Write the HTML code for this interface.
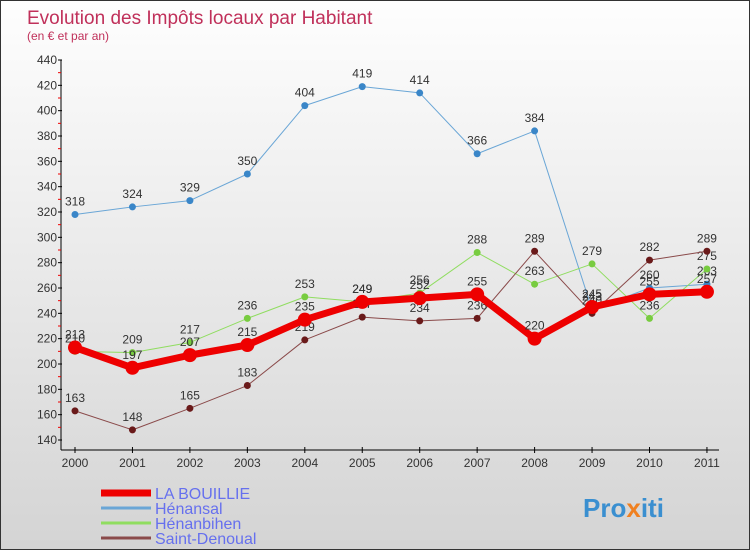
<!DOCTYPE html>
<html><head><meta charset="utf-8"><style>
html,body{margin:0;padding:0}
body{width:750px;height:550px;overflow:hidden;font-family:"Liberation Sans",sans-serif}
#wrap{position:relative;width:748px;height:548px;border:1px solid #333;background:linear-gradient(#fefefe,#d4d4d4)}
</style></head><body>
<div id="wrap">
<svg id="chart" width="748" height="548">
<text x="26" y="23" font-size="19" fill="#c0305a">Evolution des Impôts locaux par Habitant</text>
<text x="26" y="39" font-size="12" fill="#c0305a">(en € et par an)</text>
<g id="axes"></g><g id="series"></g><g id="legend"></g>
<text x="582" y="516" font-size="26" font-weight="bold" fill="#3a8fd0">Pro<tspan fill="#f08020">x</tspan>iti</text>
</svg></div>
<script>
const years=[2000,2001,2002,2003,2004,2005,2006,2007,2008,2009,2010,2011];
const yTicks=[140,160,180,200,220,240,260,280,300,320,340,360,380,400,420,440];
const laBouillie=[213,197,207,215,235,249,252,255,220,245,255,257];
const henansal=[318,324,329,350,404,419,414,366,384,243,260,263];
const henanbihen=[210,209,217,236,253,249,256,288,263,279,236,275];
const saintDenoual=[163,148,165,183,219,237,234,236,289,240,282,289];
const NS="http://www.w3.org/2000/svg";
const X=i=>74+i*57.45;
const Y=v=>439-(v-140)*(380/300);
function mk(t,a,p){const e=document.createElementNS(NS,t);for(const k in a)e.setAttribute(k,a[k]);p.appendChild(e);return e;}
const axes=document.getElementById('axes');
let ya=mk('line',{x1:60,y1:59,x2:60,y2:449,stroke:'#000'},axes);


let xa=mk('line',{x1:60,y1:449,x2:718,y2:449,stroke:'#000'},axes);


yTicks.forEach(v=>{
 mk('line',{x1:57,y1:Y(v),x2:61,y2:Y(v),stroke:'#000'},axes);
 if(v<440)mk('line',{x1:57,y1:Y(v+10),x2:60,y2:Y(v+10),stroke:'#e00'},axes);
 const t=mk('text',{x:56,y:Y(v)+4,'font-size':12,'text-anchor':'end',fill:'#333'},axes);
 t.textContent=v;
 
 
});
years.forEach((yr,i)=>{
 mk('line',{x1:X(i),y1:446,x2:X(i),y2:452,stroke:'#000'},axes);
 const t=mk('text',{x:X(i),y:466,'font-size':12,'text-anchor':'middle',fill:'#333'},axes);
 t.textContent=yr;
 
 
});
const S=[
 {n:'Hénansal',d:henansal,c:'#6aa6d6',m:'#3a86c8',w:1,r:3.5,id:'henansal'},
 {n:'Hénanbihen',d:henanbihen,c:'#90dd60',m:'#78cc40',w:1,r:3.5,id:'henanbihen'},
 {n:'Saint-Denoual',d:saintDenoual,c:'#8a4a4a',m:'#6a1a1a',w:1,r:3.5,id:'saint-denoual'},
 {n:'LA BOUILLIE',d:laBouillie,c:'#ee0000',m:'#ee0000',w:7,r:7,id:'la-bouillie'}];
const sg=document.getElementById('series');
S.forEach(s=>{
 const g=mk('g',{},sg);
 
 
 const pl=mk('polyline',{points:s.d.map((v,i)=>X(i)+','+Y(v)).join(' '),fill:'none',stroke:s.c,'stroke-width':s.w,'stroke-linejoin':'round'},g);
 
 
 s.d.forEach((v,i)=>{
  const c=mk('circle',{cx:X(i),cy:Y(v),r:s.r,fill:s.m},g);
  
  
  const t=mk('text',{x:X(i),y:Y(v)-9,'font-size':12,'text-anchor':'middle',fill:'#333'},g);
  t.textContent=v;
  
  
 });
});
const lg=document.getElementById('legend');
[S[3],S[0],S[1],S[2]].forEach((s,k)=>{
 const y=492+k*15;
 const g=mk('g',{},lg);
 
 
 mk('line',{x1:100,y1:y,x2:150,y2:y,stroke:s.id==='la-bouillie'?'#ee0000':s.c,'stroke-width':s.id==='la-bouillie'?7:3},g);
 const t=mk('text',{x:154,y:y+6,'font-size':16,fill:'#6670ee'},g);
 t.textContent=s.n;
});
</script>
</body></html>
